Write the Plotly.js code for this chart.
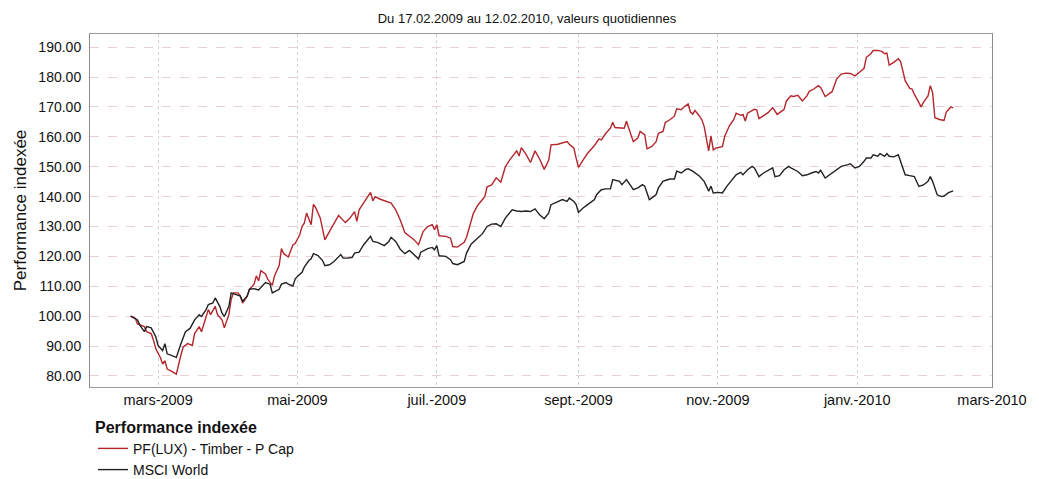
<!DOCTYPE html>
<html>
<head>
<meta charset="utf-8">
<script src="https://cdn.plot.ly/plotly-3.0.1.min.js"></script>
<style>html,body{margin:0;padding:0;background:#fff}#chart{width:1039px;height:479px}</style>
</head>
<body>
<div id="chart"></div>
<script>
const fundName = "PF(LUX) - Timber - P Cap";
const indexName = "MSCI World";

const fundDates = ["2009-02-17","2009-02-19","2009-02-20","2009-02-23","2009-02-24","2009-02-26","2009-02-27","2009-02-28","2009-03-02","2009-03-03","2009-03-04","2009-03-05","2009-03-07","2009-03-09","2009-03-11","2009-03-12","2009-03-14","2009-03-16","2009-03-17","2009-03-19","2009-03-20","2009-03-22","2009-03-23","2009-03-24","2009-03-26","2009-03-27","2009-03-29","2009-03-30","2009-04-01","2009-04-02","2009-04-03","2009-04-05","2009-04-06","2009-04-07","2009-04-09","2009-04-10","2009-04-12","2009-04-13","2009-04-14","2009-04-15","2009-04-17","2009-04-18","2009-04-20","2009-04-21","2009-04-23","2009-04-24","2009-04-25","2009-04-27","2009-04-29","2009-04-30","2009-05-02","2009-05-03","2009-05-04","2009-05-05","2009-05-07","2009-05-08","2009-05-09","2009-05-11","2009-05-13","2009-05-15","2009-05-17","2009-05-19","2009-05-22","2009-05-24","2009-05-26","2009-05-27","2009-05-28","2009-05-31","2009-06-02","2009-06-03","2009-06-04","2009-06-06","2009-06-08","2009-06-11","2009-06-13","2009-06-15","2009-06-17","2009-06-19","2009-06-21","2009-06-23","2009-06-25","2009-06-27","2009-06-29","2009-06-30","2009-07-01","2009-07-02","2009-07-05","2009-07-07","2009-07-08","2009-07-10","2009-07-13","2009-07-14","2009-07-16","2009-07-17","2009-07-19","2009-07-22","2009-07-23","2009-07-25","2009-07-27","2009-07-29","2009-07-31","2009-08-02","2009-08-05","2009-08-06","2009-08-07","2009-08-09","2009-08-11","2009-08-13","2009-08-15","2009-08-17","2009-08-19","2009-08-20","2009-08-23","2009-08-25","2009-08-27","2009-08-28","2009-08-30","2009-08-31","2009-09-01","2009-09-03","2009-09-05","2009-09-08","2009-09-10","2009-09-11","2009-09-13","2009-09-15","2009-09-16","2009-09-17","2009-09-19","2009-09-21","2009-09-22","2009-09-23","2009-09-25","2009-09-27","2009-09-28","2009-09-30","2009-10-01","2009-10-03","2009-10-05","2009-10-06","2009-10-08","2009-10-09","2009-10-11","2009-10-13","2009-10-14","2009-10-16","2009-10-17","2009-10-19","2009-10-20","2009-10-21","2009-10-22","2009-10-24","2009-10-25","2009-10-26","2009-10-27","2009-10-28","2009-10-29","2009-10-30","2009-10-31","2009-11-03","2009-11-04","2009-11-06","2009-11-08","2009-11-09","2009-11-11","2009-11-12","2009-11-13","2009-11-14","2009-11-17","2009-11-18","2009-11-19","2009-11-21","2009-11-23","2009-11-25","2009-11-27","2009-11-30","2009-12-01","2009-12-03","2009-12-04","2009-12-06","2009-12-08","2009-12-10","2009-12-11","2009-12-13","2009-12-15","2009-12-16","2009-12-18","2009-12-21","2009-12-23","2009-12-25","2009-12-27","2009-12-29","2009-12-31","2010-01-02","2010-01-04","2010-01-05","2010-01-07","2010-01-08","2010-01-10","2010-01-12","2010-01-13","2010-01-14","2010-01-15","2010-01-17","2010-01-19","2010-01-20","2010-01-22","2010-01-24","2010-01-25","2010-01-26","2010-01-29","2010-01-30","2010-02-01","2010-02-02","2010-02-03","2010-02-04","2010-02-06","2010-02-08","2010-02-09","2010-02-11","2010-02-12"];
const fundValues = [100,99.3,97.4,96.5,94.8,94.2,91.9,89.1,86.2,84.0,85.1,82.3,81.5,80.6,87.0,89.7,90.8,90.2,94.2,96.5,94.8,99.9,102.2,100.5,103.3,100.5,98.8,96.1,100.5,105.6,107.8,107.8,106.7,104.4,106.7,109.0,110.7,113.5,111.8,115.2,114.1,112.4,110.3,113.5,116.9,122.6,120.9,119.8,123.8,124.3,127.2,130.0,131.1,134.5,130.6,137.4,136.3,132.8,125.5,128.3,131.1,133.7,131.3,132.8,135.0,131.7,135.6,138.9,141.4,138.6,140.0,139.2,138.6,137.8,135.6,132.2,128.0,126.9,125.6,123.9,128.3,130.0,130.6,128.9,130.6,126.9,126.7,126.1,123.3,123.1,124.7,126.4,132.2,134.4,137.2,140.0,143.3,143.9,146.3,144.8,150.0,152.4,155.3,153.6,156.4,154.2,151.4,155.3,152.6,149.1,152.2,157.3,157.5,157.9,158.4,157.5,156.2,152.8,149.8,152.2,154.5,157.1,159.3,159.0,161.2,162.9,164.9,163.1,163.1,162.9,165.2,162.9,158.4,159.6,161.8,160.7,156.0,156.7,158.4,161.2,161.8,164.8,165.7,166.9,169.4,169.1,169.9,171.0,168.3,167.6,168.8,166.9,165.7,163.5,159.6,155.3,160.3,155.6,156.2,156.7,160.1,163.6,165.8,167.9,167.2,167.5,165.3,167.9,169.2,169.0,166.1,167.2,168.1,169.8,167.5,169.2,172.0,173.7,173.5,173.9,172.0,173.7,175.2,176.0,177.1,176.5,173.5,175.1,179.3,181.0,181.3,181.2,180.4,181.6,182.9,186.6,187.8,188.9,188.9,188.5,187.8,188.0,184.0,184.9,186.1,185.2,178.8,176.2,176.0,174.3,170.0,171.5,173.7,177.1,174.8,166.4,165.8,165.5,168.3,170.0,169.7];

const indexDates = ["2009-02-17","2009-02-20","2009-02-21","2009-02-23","2009-02-24","2009-02-26","2009-02-28","2009-03-01","2009-03-03","2009-03-04","2009-03-05","2009-03-07","2009-03-09","2009-03-11","2009-03-13","2009-03-15","2009-03-17","2009-03-19","2009-03-20","2009-03-22","2009-03-23","2009-03-25","2009-03-26","2009-03-28","2009-03-29","2009-03-30","2009-04-01","2009-04-02","2009-04-04","2009-04-06","2009-04-07","2009-04-09","2009-04-10","2009-04-12","2009-04-14","2009-04-15","2009-04-17","2009-04-19","2009-04-20","2009-04-23","2009-04-24","2009-04-26","2009-04-27","2009-04-29","2009-04-30","2009-05-01","2009-05-03","2009-05-04","2009-05-06","2009-05-07","2009-05-08","2009-05-10","2009-05-12","2009-05-13","2009-05-15","2009-05-17","2009-05-20","2009-05-21","2009-05-23","2009-05-25","2009-05-26","2009-05-28","2009-05-30","2009-06-02","2009-06-03","2009-06-05","2009-06-08","2009-06-10","2009-06-11","2009-06-13","2009-06-15","2009-06-17","2009-06-19","2009-06-21","2009-06-23","2009-06-24","2009-06-27","2009-06-29","2009-06-30","2009-07-01","2009-07-02","2009-07-05","2009-07-07","2009-07-08","2009-07-10","2009-07-13","2009-07-14","2009-07-16","2009-07-19","2009-07-21","2009-07-23","2009-07-25","2009-07-27","2009-07-29","2009-07-31","2009-08-03","2009-08-05","2009-08-07","2009-08-09","2009-08-11","2009-08-13","2009-08-15","2009-08-17","2009-08-19","2009-08-20","2009-08-23","2009-08-25","2009-08-27","2009-08-28","2009-08-30","2009-08-31","2009-09-01","2009-09-03","2009-09-05","2009-09-08","2009-09-09","2009-09-11","2009-09-13","2009-09-15","2009-09-16","2009-09-19","2009-09-20","2009-09-22","2009-09-24","2009-09-25","2009-09-27","2009-09-29","2009-09-30","2009-10-02","2009-10-03","2009-10-05","2009-10-06","2009-10-08","2009-10-09","2009-10-11","2009-10-13","2009-10-14","2009-10-16","2009-10-18","2009-10-19","2009-10-21","2009-10-24","2009-10-26","2009-10-27","2009-10-28","2009-10-29","2009-10-30","2009-11-01","2009-11-03","2009-11-05","2009-11-06","2009-11-09","2009-11-11","2009-11-12","2009-11-14","2009-11-16","2009-11-17","2009-11-19","2009-11-21","2009-11-23","2009-11-25","2009-11-26","2009-11-28","2009-11-30","2009-12-02","2009-12-03","2009-12-06","2009-12-08","2009-12-10","2009-12-12","2009-12-14","2009-12-15","2009-12-16","2009-12-18","2009-12-20","2009-12-23","2009-12-25","2009-12-28","2009-12-29","2009-12-31","2010-01-02","2010-01-04","2010-01-05","2010-01-07","2010-01-08","2010-01-10","2010-01-11","2010-01-13","2010-01-14","2010-01-15","2010-01-17","2010-01-19","2010-01-20","2010-01-22","2010-01-24","2010-01-26","2010-01-28","2010-01-30","2010-02-01","2010-02-02","2010-02-03","2010-02-05","2010-02-07","2010-02-08","2010-02-10","2010-02-12"];
const indexValues = [100,98.75,97.0,94.8,96.5,96.1,93.1,90.2,88.5,90.8,87.4,86.8,86.2,90.8,94.8,95.9,98.75,100.5,99.9,102.2,103.9,104.4,106.1,103.3,101.0,99.9,103.3,107.8,107.3,106.7,105.0,106.7,109.0,109.2,108.75,109.5,111.25,110.7,107.8,109.0,110.7,111.25,110.7,110.1,112.4,113.3,114.7,116.4,118.6,119.2,120.9,120.3,118.6,116.9,117.2,118.3,120.6,119.4,119.4,119.7,121.1,121.4,123.9,126.7,125.0,124.7,123.6,125.0,126.4,125.0,122.4,120.9,122.0,120.6,119.1,121.4,122.6,123.0,122.2,123.6,120.2,120.0,118.9,117.6,117.2,118.3,121.1,124.1,126.1,127.6,130.0,130.8,130.9,130.0,132.8,135.6,135.2,135.0,135.2,135.0,135.9,133.9,132.6,134.5,137.3,138.4,139.0,138.4,139.5,138.4,137.3,134.7,136.2,137.3,139.0,140.7,142.3,142.6,142.6,145.7,145.1,144.0,145.7,143.5,142.3,142.9,144.0,143.5,139.0,139.5,140.7,142.9,145.1,145.4,145.9,145.9,148.5,147.9,149.1,149.3,148.5,146.8,145.1,143.5,141.8,143.5,141.2,141.4,141.2,143.5,144.5,147.3,148.1,147.3,149.0,150.1,149.6,146.7,147.9,148.8,149.6,146.7,147.0,149.0,150.1,149.6,148.4,147.0,147.3,147.9,148.4,147.9,148.8,146.2,147.3,149.2,150.1,150.7,151.0,149.6,150.1,151.8,152.9,152.9,154.0,153.5,154.4,153.5,154.4,153.5,153.3,154.0,151.5,147.3,147.0,146.7,143.4,143.9,145.1,146.7,145.1,140.6,140.0,140.2,141.3,141.9];

const tickDates = ["2009-03-01","2009-05-01","2009-07-01","2009-09-01","2009-11-01","2010-01-01","2010-03-01"];
const tickLabels = ["mars-2009","mai-2009","juil.-2009","sept.-2009","nov.-2009","janv.-2010","mars-2010"];
const yTicks = [80,90,100,110,120,130,140,150,160,170,180,190];

const chartTitle = "Du 17.02.2009 au 12.02.2010, valeurs quotidiennes";
const yTitle = "Performance indexée";
const legendTitle = "Performance indexée";

const font = "Liberation Sans, Arial, sans-serif";

const traces = [
  {x: fundDates, y: fundValues, name: fundName, type: "scatter", mode: "lines",
   line: {color: "#b3262c", width: 1.4}},
  {x: indexDates, y: indexValues, name: indexName, type: "scatter", mode: "lines",
   line: {color: "#222222", width: 1.4}}
];

const layout = {
  width: 1039, height: 479,
  margin: {l: 90, r: 47, t: 34, b: 92},
  paper_bgcolor: "#ffffff", plot_bgcolor: "#ffffff",
  font: {family: font, size: 14, color: "#111"},
  title: {text: chartTitle, font: {family: font, size: 13, color: "#111"},
          x: 527/1039, xref: "container", xanchor: "center", y: 1 - 18/479, yref: "container", yanchor: "middle"},
  xaxis: {
    type: "date",
    range: ["2009-01-30 05:00", "2010-03-01"],
    tickvals: tickDates, ticktext: tickLabels,
    showgrid: true, gridcolor: "#d6cfd1", griddash: "dot", gridwidth: 1,
    showline: true, linecolor: "#9a9a9a", linewidth: 1, mirror: true,
    ticks: "", tickfont: {family: font, size: 14.5, color: "#111"},
    zeroline: false, automargin: false
  },
  yaxis: {
    range: [76.3, 194.4],
    tickvals: yTicks, tickformat: ".2f",
    showgrid: true, gridcolor: "#e8cfd3", griddash: "dash", gridwidth: 1,
    showline: true, linecolor: "#8a8a8a", linewidth: 1, mirror: true,
    ticks: "outside", ticklen: 5, tickcolor: "rgba(0,0,0,0)",
    tickfont: {family: font, size: 14, color: "#111"},
    title: {text: yTitle, font: {family: font, size: 17, color: "#111"}, standoff: 7},
    zeroline: false, automargin: false
  },
  showlegend: true,
  legend: {
    orientation: "v",
    x: 3/902, xref: "paper", xanchor: "left",
    yref: "container", y: 1 - 412/479, yanchor: "top",
    title: {text: "<b>" + legendTitle + "</b>", font: {family: font, size: 16, color: "#111"}},
    font: {family: font, size: 14, color: "#111"},
    bgcolor: "rgba(0,0,0,0)", borderwidth: 0,
    tracegroupgap: 2, itemwidth: 30
  }
};

Plotly.newPlot("chart", traces, layout, {displayModeBar: false, staticPlot: true});
</script>
</body>
</html>
